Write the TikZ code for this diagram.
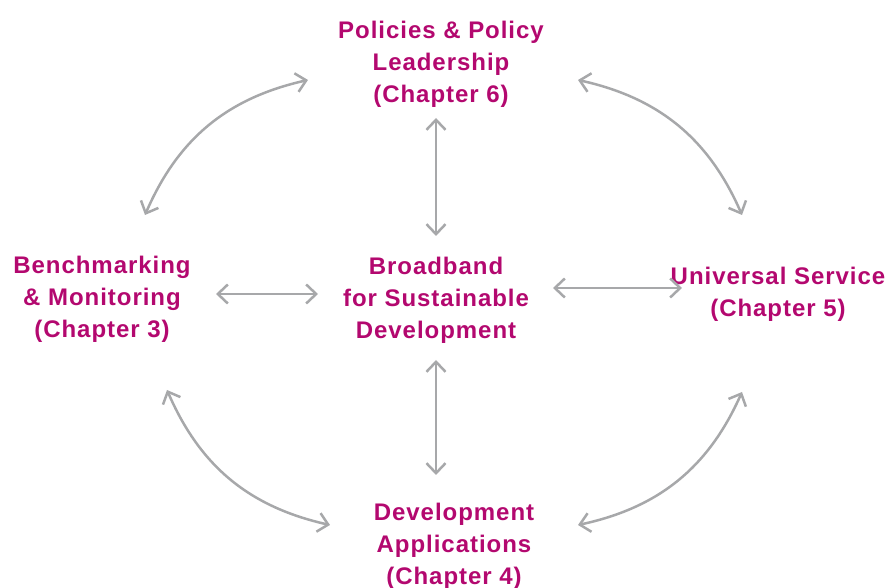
\documentclass[tikz,border=0pt]{standalone}
\usepackage{fontspec}
\setmainfont[LetterSpace=4]{Liberation Sans}
\usetikzlibrary{arrows.meta}
\definecolor{chapter}{HTML}{B3086F}
\definecolor{linkgray}{HTML}{A7A8AA}
\begin{document}
\begin{tikzpicture}[x=1pt,y=1pt,
	topic/.style={text=chapter,align=center,inner sep=0pt,
		font=\bfseries\fontsize{24}{32}\selectfont},
	link/.style={draw=linkgray,line width=2.5pt,
		{Straight Barb[length=10pt,width=19pt]}-{Straight Barb[length=10pt,width=19pt]}}]
	\useasboundingbox (0,0) rectangle (889,588);
	\node[topic] (policy) at (441,524) {Policies \& Policy\\Leadership\\(Chapter 6)};
	\node[topic] (bench) at (102,289) {Benchmarking\\\& Monitoring\\(Chapter 3)};
	\node[topic] (broad) at (436,288) {Broadband\\for Sustainable\\Development};
	\node[topic] (univ) at (778,294) {Universal Service\\(Chapter 5)};
	\node[topic] (apps) at (454,42) {Development\\Applications\\(Chapter 4)};
	% outer ring
	\draw[link] ([shift={(-133,-16)}]policy.center) to[bend right=27] ([shift={(43,84)}]bench.center);
	\draw[link] ([shift={(137,-16)}]policy.center) to[bend left=27] ([shift={(-36,79)}]univ.center);
	\draw[link] ([shift={(65,-91)}]bench.center) to[bend right=27] ([shift={(-124,21)}]apps.center);
	\draw[link] ([shift={(-36,-98)}]univ.center) to[bend left=27] ([shift={(124,21)}]apps.center);
	% spokes
	\draw[link] ([shift={(-5,-54)}]policy.center) -- ([shift={(0,64)}]broad.center);
	\draw[link] ([shift={(0,-60)}]broad.center) -- ([shift={(-18,71)}]apps.center);
	\draw[link] ([shift={(114,5)}]bench.center) -- ([shift={(-118,6)}]broad.center);
	\draw[link] ([shift={(117,12)}]broad.center) -- ([shift={(-96,6)}]univ.center);
\end{tikzpicture}
\end{document}
